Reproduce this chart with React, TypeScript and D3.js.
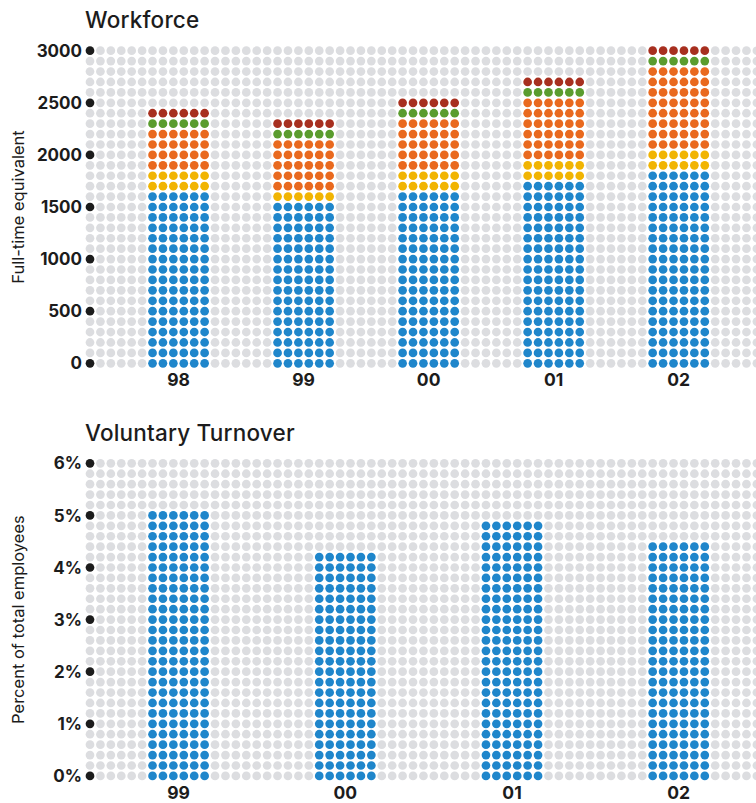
import React from "react";
import * as d3 from "d3";

// Workforce (full-time equivalent), stacked bottom -> top
const workforceYears = ["98", "99", "00", "01", "02"];
const blueFte = [1600, 1500, 1600, 1700, 1800];
const yellowFte = [200, 100, 200, 200, 200];
const orangeFte = [400, 500, 500, 600, 800];
const greenFte = [100, 100, 100, 100, 100];
const redFte = [100, 100, 100, 100, 100];
const workforceTicks = [0, 500, 1000, 1500, 2000, 2500, 3000];

// Voluntary turnover (percent of total employees)
const turnoverYears = ["99", "00", "01", "02"];
const turnoverPct = [5.0, 4.2, 4.8, 4.4];
const turnoverTicks = [0, 1, 2, 3, 4, 5, 6];

const GRAY = "#dcdde0";
const INK = "#1c1c1c";
const segColors = ["#1f86cb", "#f1b402", "#e9691e", "#5a9c2e", "#a72f1f"];

const STEP = 10.42;
const R = 4.35;
const NCOLS = 65;
const FONT = "Inter, 'Liberation Sans', Arial, sans-serif";

const colX = d3
  .scaleLinear()
  .domain([0, NCOLS - 1])
  .range([90, 90 + (NCOLS - 1) * STEP]);

type PanelProps = {
  top: number; // y of first (highest) row
  title: string;
  axisTitle: string;
  maxVal: number;
  rowStep: number;
  ticks: number[];
  tickFmt: (v: number) => string;
  years: string[];
  bandCols: number;
  colorAt: (i: number, v: number) => string;
};

const Panel = ({ top, title, axisTitle, maxVal, rowStep, ticks, tickFmt, years, bandCols, colorAt }: PanelProps) => {
  const nRows = Math.round(maxVal / rowStep);
  const y = d3
    .scaleLinear()
    .domain([0, maxVal])
    .range([top + nRows * STEP, top]);
  const band = d3
    .scaleBand()
    .domain(years)
    .range([6, 6 + bandCols * years.length]);
  const rows = d3.range(0, nRows + 1).map((k) => k * rowStep);
  const isTick = (v: number) => ticks.some((t) => Math.abs(t - v) < 1e-6);

  const dots: JSX.Element[] = [];
  rows.forEach((v, ri) => {
    for (let c = 0; c < NCOLS; c++) {
      let fill = GRAY;
      if (c === 0 && isTick(v)) fill = INK;
      years.forEach((yr, i) => {
        const start = band(yr) as number;
        if (c >= start && c < start + 6) {
          fill = colorAt(i, v);
        }
      });
      dots.push(<circle key={ri + "-" + c} cx={colX(c)} cy={y(v)} r={R} fill={fill} />);
    }
  });

  const midY = (y(0) + y(maxVal)) / 2;

  return (
    <g>
      <text x={85} y={top - 22.5} fontSize={22.5} fontWeight={500} fill={INK} style={{ letterSpacing: "0.2px" }}>
        {title}
      </text>
      <text
        transform={`translate(24,${midY}) rotate(-90)`}
        textAnchor="middle"
        fontSize={16.5}
        fill={INK}
      >
        {axisTitle}
      </text>
      {dots}
      {ticks.map((t) => (
        <text key={t} x={82} y={y(t)} dy="0.36em" textAnchor="end" fontSize={17} fontWeight="bold" fill={INK}>
          {tickFmt(t)}
        </text>
      ))}
      {years.map((yr) => (
        <text
          key={yr}
          x={colX((band(yr) as number) + 2.5)}
          y={y(0) + 23}
          textAnchor="middle"
          fontSize={17.5}
          fontWeight="bold"
          fill={INK}
        >
          {yr}
        </text>
      ))}
    </g>
  );
};

const workforceColor = (i: number, v: number) => {
  const segs = [blueFte[i], yellowFte[i], orangeFte[i], greenFte[i], redFte[i]];
  let cum = 0;
  for (let s = 0; s < segs.length; s++) {
    cum += segs[s];
    if (v <= cum + 1e-6) return segColors[s];
  }
  return GRAY;
};

const turnoverColor = (i: number, v: number) => (v <= turnoverPct[i] + 1e-6 ? segColors[0] : GRAY);

export default function App() {
  return (
    <div style={{ position: "absolute", left: 0, top: 0 }}>
      <svg width={756} height={803} style={{ display: "block", fontFamily: FONT }}>
        <rect width={756} height={803} fill="#ffffff" />
        <Panel
          top={50.7}
          title="Workforce"
          axisTitle="Full-time equivalent"
          maxVal={3000}
          rowStep={100}
          ticks={workforceTicks}
          tickFmt={(v) => String(v)}
          years={workforceYears}
          bandCols={12}
          colorAt={workforceColor}
        />
        <Panel
          top={463.3}
          title="Voluntary Turnover"
          axisTitle="Percent of total employees"
          maxVal={6}
          rowStep={0.2}
          ticks={turnoverTicks}
          tickFmt={(v) => v + "%"}
          years={turnoverYears}
          bandCols={16}
          colorAt={turnoverColor}
        />
      </svg>
    </div>
  );
}
